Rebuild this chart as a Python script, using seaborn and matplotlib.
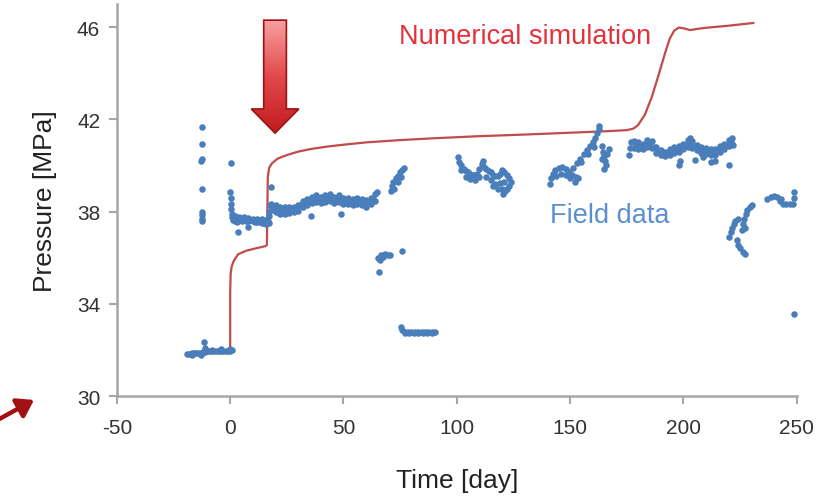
import matplotlib
matplotlib.use("Agg")
import matplotlib.pyplot as plt
import numpy as np
import pandas as pd
import seaborn as sns
from matplotlib.colors import LinearSegmentedColormap
from matplotlib.patches import FancyArrow, FancyArrowPatch


OUTPUT_FILENAME = "out.png"

# numerical simulation (red curve)
sim_day = [0, 0, 0.2, 0.6, 1.5, 3.5, 7, 11, 15.5, 16.2, 16.4, 16.6, 17.2, 18.5,
           21, 25, 30, 36, 43, 50, 60, 75, 90, 110, 130, 150, 165, 175, 178,
           180, 183, 186, 189, 192, 194, 196, 198, 200, 203, 206, 210, 220, 231]
sim_mpa = [32.0, 34.5, 35.3, 35.6, 35.85, 36.15, 36.3, 36.4, 36.5, 36.55, 38.0,
           39.5, 39.9, 40.1, 40.3, 40.45, 40.6, 40.72, 40.82, 40.9, 41.0, 41.1,
           41.18, 41.27, 41.34, 41.42, 41.48, 41.53, 41.6, 41.75, 42.2, 42.95,
           43.9, 44.9, 45.5, 45.85, 45.98, 45.95, 45.87, 45.92, 45.97, 46.06, 46.18]

# field data (blue dots), read cluster by cluster
field_day = [
    # before injection
    -19, -18, -17, -16, -15, -14, -13, -12, -11, -10, -9, -8, -7, -6, -5, -4,
    -3, -2, -1, 0, 1, -17, -13, -8, -4, 0, -11.5, -11,
    # scattered at -13 days
    -12.6, -12.6, -12.4, -12.7, -12.6, -12.5, -12.5, -12.5, -12.6, 0.3,
    # first plateau
    0, 0.2, 0.3, 0.4, 0.6, 0.8, 1.2,
    2, 3, 4, 5, 6, 7, 8, 9, 10, 11, 12, 13, 14, 15, 16, 17,
    2, 4, 6, 8, 10, 12, 14, 16, 3.5, 8, 18.2, 17, 17.3, 17.5,
    2.5, 4.5, 6.5, 8.5, 10.5, 12.5, 14.5, 16.5,
    # second plateau
    18, 20, 22, 24, 26, 28, 30, 32, 34, 36, 38, 40, 42, 44, 46, 48, 50, 52,
    54, 56, 58, 60, 62, 64, 65,
    18, 20, 22, 24, 26, 28, 30, 32, 34, 36, 38, 40, 42, 44, 46, 48, 50, 52,
    54, 56, 58, 60, 62, 64, 35.7, 49,
    19, 21, 23, 25, 27, 29, 31, 33, 35, 37, 39, 41, 43, 45, 47, 49, 51, 53,
    55, 57, 59, 61, 63,
    71, 71.5, 72, 73, 74, 75, 76, 76.5, 72.5, 74, 75.5,
    65.2, 66.5, 67.5, 68.5, 69.5, 70.5, 66, 75.9, 65.5,
    75.5, 76, 77, 78.5, 80, 81.5, 83, 84.5, 86, 87.5, 89, 90.5,
    77, 79, 81, 83, 85, 87, 89,
    # around 100-125 days
    100.4, 101, 102, 103, 104, 105, 106, 107, 108, 109, 110, 111, 111.5,
    102, 104, 106, 108, 110,
    112, 113, 114, 115, 116, 117, 118, 119, 120, 121, 122, 123, 124,
    113, 115, 117, 119, 121, 123, 116, 118, 120, 122, 120.3, 121.2,
    # around 141-167 days
    141, 141.5, 142.5, 143.5, 145, 146.5, 148, 149.5, 151, 152.5, 153.5,
    144, 146, 148, 150, 152,
    151.5, 153, 154.5, 156, 157.5, 159, 160, 161, 162, 162.8, 162.8, 155,
    158, 160.5,
    164, 164.5, 165, 165.5, 166, 165, 166.5, 164, 167,
    # 176-222 days
    176, 176.5, 177, 178, 180, 182, 184, 186, 188, 190, 192, 194, 196, 198,
    200, 202, 203, 204, 206, 208, 210, 212, 214, 216, 218, 220, 221.5, 222,
    178, 180, 182, 184, 186, 188, 190, 192, 194, 196, 198, 200, 202, 204,
    206, 208, 210, 212, 214, 216, 218, 220,
    179, 181, 183, 185, 187, 189, 191, 193, 195, 197, 199, 201, 203, 205,
    207, 209, 211, 213, 215, 217, 219, 221,
    198, 198.5, 205, 208.5, 212, 214, 220,
    # 220-232 days
    220, 220.8, 221.5, 222.3, 223, 224,
    226, 226.3, 226.8, 227.5, 228.3, 229.3, 230.5, 227,
    223.5, 224.2, 225.2, 226.2, 227,
    # last days
    237, 238.5, 240, 241.5, 242.5, 244, 245.5, 247, 248.5, 249, 249, 243,
    248.8,
]
field_mpa = [
    31.83, 31.84, 31.85, 31.85, 31.86, 31.86, 31.88, 31.9, 31.93, 31.95, 31.95,
    31.94, 31.95, 31.96, 31.95, 31.96, 31.95, 31.96, 31.97, 31.97, 31.98,
    31.78, 31.8, 32.0, 32.02, 32.04, 32.36, 32.1,
    41.68, 40.91, 40.3, 40.2, 38.96, 38.0, 37.85, 37.7, 37.6, 40.1,
    38.85, 38.6, 38.35, 38.1, 37.9, 37.75, 37.65,
    37.6, 37.55, 37.65, 37.6, 37.62, 37.58, 37.6, 37.62, 37.58, 37.55, 37.56,
    37.54, 37.52, 37.5, 37.48, 37.5,
    37.8, 37.78, 37.75, 37.72, 37.7, 37.7, 37.68, 37.65, 37.1, 37.35, 39.07,
    37.8, 38.0, 38.3,
    37.7, 37.7, 37.68, 37.66, 37.64, 37.62, 37.6, 37.58,
    38.35, 38.28, 38.2, 38.18, 38.2, 38.22, 38.28, 38.45, 38.55, 38.65, 38.7,
    38.65, 38.7, 38.75, 38.65, 38.7, 38.6, 38.6, 38.55, 38.6, 38.55, 38.5,
    38.6, 38.75, 38.85,
    38.05, 37.98, 37.9, 37.9, 37.95, 37.98, 38.02, 38.18, 38.28, 38.38, 38.42,
    38.38, 38.42, 38.48, 38.38, 38.42, 38.32, 38.32, 38.28, 38.32, 38.28,
    38.22, 38.32, 38.48, 37.8, 37.9,
    38.2, 38.12, 38.05, 38.05, 38.08, 38.15, 38.28, 38.4, 38.5, 38.55, 38.55,
    38.55, 38.6, 38.55, 38.55, 38.5, 38.45, 38.45, 38.45, 38.45, 38.38,
    38.42, 38.55,
    38.9, 39.1, 39.3, 39.45, 39.55, 39.7, 39.8, 39.9, 39.0, 39.3, 39.5,
    36.0, 36.1, 36.05, 36.15, 36.1, 36.12, 35.9, 36.27, 35.4,
    33.0, 32.85, 32.8, 32.8, 32.78, 32.78, 32.78, 32.78, 32.77, 32.77, 32.77,
    32.77,
    32.72, 32.72, 32.72, 32.72, 32.72, 32.72, 32.72,
    40.35, 40.15, 40.0, 39.85, 39.75, 39.7, 39.65, 39.6, 39.6, 39.65, 39.85,
    40.05, 40.2,
    39.8, 39.5, 39.4, 39.35, 39.5,
    39.95, 39.85, 39.75, 39.7, 39.6, 39.55, 39.55, 39.65, 39.8, 39.7, 39.6,
    39.45, 39.3,
    39.5, 39.35, 39.2, 39.25, 39.3, 39.1, 39.1, 39.0, 39.0, 39.0, 38.75, 38.9,
    39.2, 39.45, 39.65, 39.8, 39.9, 39.95, 39.85, 39.7, 39.6, 39.5, 39.45,
    39.55, 39.65, 39.6, 39.45, 39.3,
    39.9, 40.1, 40.3, 40.5, 40.65, 40.85, 41.0, 41.2, 41.4, 41.6, 41.72, 40.15,
    40.5, 40.8,
    40.85, 40.6, 40.4, 40.2, 40.0, 39.85, 40.5, 40.3, 40.7,
    40.45, 40.75, 41.0, 41.05, 41.0, 40.95, 41.1, 41.05, 40.8, 40.65, 40.6,
    40.7, 40.8, 40.85, 40.95, 41.1, 41.2, 41.05, 40.9, 40.8, 40.75, 40.7,
    40.7, 40.85, 40.95, 41.1, 41.2, 40.9,
    40.75, 40.7, 40.7, 40.8, 40.75, 40.55, 40.45, 40.4, 40.45, 40.55, 40.6,
    40.7, 40.8, 40.75, 40.65, 40.55, 40.5, 40.45, 40.45, 40.6, 40.7, 40.85,
    40.85, 40.85, 40.9, 40.95, 40.8, 40.6, 40.55, 40.55, 40.65, 40.72, 40.8,
    40.9, 40.95, 40.85, 40.72, 40.65, 40.6, 40.58, 40.68, 40.8, 40.9, 41.0,
    40.0, 40.2, 40.25, 40.35, 40.15, 40.2, 40.0,
    36.9, 37.1, 37.3, 37.45, 37.6, 37.7,
    37.2, 37.45, 37.7, 37.9, 38.05, 38.2, 38.28, 37.3,
    36.75, 36.55, 36.4, 36.25, 36.15,
    38.55, 38.62, 38.68, 38.62, 38.45, 38.35, 38.33, 38.32, 38.35, 38.6,
    38.85, 38.55,
    33.57,
]

x_ticks = [-50, 0, 50, 100, 150, 200, 250]
y_ticks = [30, 34, 38, 42, 46]

SIM_COLOR = "#C24A4A"
FIELD_COLOR = "#4A7EBB"
AXIS_GREY = "#A6A6A6"


def main():
    sns.set_style("ticks")
    plt.rcParams["font.family"] = ["Liberation Sans", "DejaVu Sans"]

    field = pd.DataFrame({"day": field_day, "mpa": field_mpa})
    sim = pd.DataFrame({"day": sim_day, "mpa": sim_mpa})

    fig = plt.figure(figsize=(8.29, 5.02), dpi=100)
    ax = fig.add_axes([0.141, 0.209, 0.820, 0.781])

    sns.scatterplot(data=field, x="day", y="mpa", ax=ax, color=FIELD_COLOR,
                    s=22, linewidth=0, marker="o", zorder=3)
    sns.lineplot(data=sim, x="day", y="mpa", ax=ax, color=SIM_COLOR,
                 linewidth=1.6, sort=False, estimator=None, zorder=2)

    ax.set_xticks(x_ticks)
    ax.set_yticks(y_ticks)
    ax.set_xticklabels([str(t) for t in x_ticks])
    ax.set_yticklabels([str(t) for t in y_ticks])

    for side in ["top", "right"]:
        ax.spines[side].set_visible(False)
    for side in ["left", "bottom"]:
        ax.spines[side].set_color(AXIS_GREY)
        ax.spines[side].set_linewidth(1.8)
    ax.tick_params(axis="both", direction="out", length=6, width=1.5,
                   color=AXIS_GREY, labelsize=15, labelcolor="#333333")
    ax.tick_params(axis="x", pad=10)
    ax.tick_params(axis="y", pad=6)

    ax.set_xlabel("Time [day]", fontsize=19, color="#222222", labelpad=22)
    ax.set_ylabel("Pressure [MPa]", fontsize=19, color="#222222", labelpad=14)

    ax.text(130, 45.6, "Numerical simulation", color="#E4323C", fontsize=19.5,
            ha="center", va="center")
    ax.text(167.4, 37.85, "Field data", color="#5B8FD2", fontsize=19.5,
            ha="center", va="center")

    # big red arrow pointing at the pressure jump, shaded top to bottom
    shade = LinearSegmentedColormap.from_list("arrow", ["#C01A1F", "#E2494B", "#F9A3A3"])
    grad = ax.imshow(np.linspace(0, 1, 64).reshape(-1, 1), cmap=shade,
                     extent=[8, 32, 41.3, 46.4], origin="lower", aspect="auto",
                     zorder=4)
    arrow = FancyArrow(19.8, 46.3, 0, -3.85, width=10, head_width=21,
                       head_length=1.05, fc="none", ec="#9E1114",
                       linewidth=1.2, zorder=5)
    ax.add_patch(arrow)
    grad.set_clip_path(arrow)

    ax.set_xlim(-50, 250)
    ax.set_ylim(30, 47)

    # small arrow at the lower left, outside the axes
    fig.patches.append(FancyArrowPatch(
        (-0.01, 0.155), (0.044, 0.204), transform=fig.transFigure,
        arrowstyle="-|>,head_length=6,head_width=4", mutation_scale=1.6,
        color="#A21014", linewidth=3.2))

    fig.savefig(OUTPUT_FILENAME, dpi=100)


if __name__ == "__main__":
    main()
